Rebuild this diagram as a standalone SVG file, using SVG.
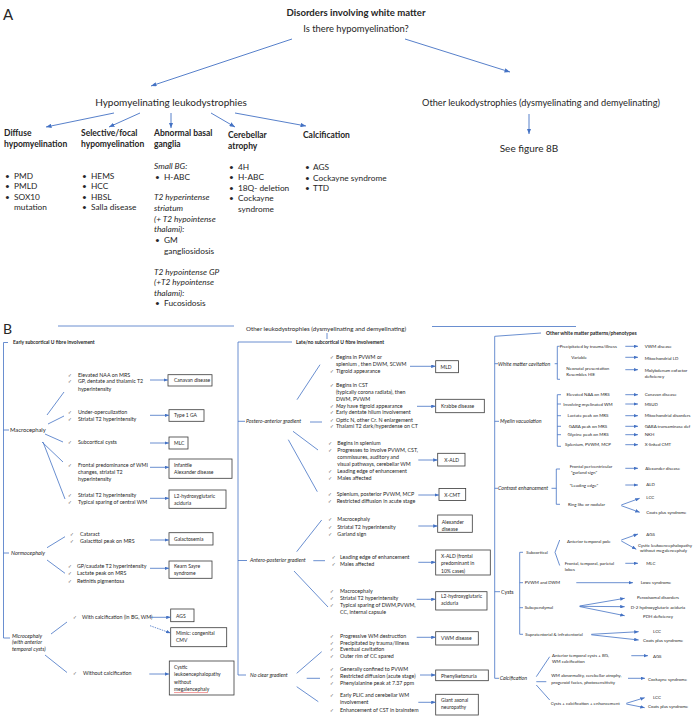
<svg xmlns="http://www.w3.org/2000/svg" width="698" height="716" viewBox="0 0 698 716">
<defs>
<style>
text{font-family:Lato,"Liberation Sans",sans-serif;fill:#262626}
.a{font-size:10px}
.ab{font-size:9.6px;font-weight:bold}
.h{font-size:8.5px;font-weight:bold}
.l{font-size:8.3px}
.li{font-size:8.3px;font-style:italic}
.t{font-size:5.3px}
.ti{font-size:5.3px;font-style:italic}
.tb{font-size:5px;font-weight:bold}
.bt{font-size:5px}
.r{font-size:4.4px}
.ck{font-family:"DejaVu Sans",sans-serif;font-size:4.6px;fill:#333}
.ln{stroke:#4472C4;stroke-width:0.8;fill:none}
.ar{stroke:#4472C4;stroke-width:0.8;fill:none;marker-end:url(#ah)}
.arA{stroke:#4472C4;stroke-width:0.9;fill:none;marker-end:url(#ahA)}
.bx{fill:#fff;stroke:#3a3a3a;stroke-width:0.8}
</style>
<marker id="ah" viewBox="0 0 10 8" refX="10" refY="4" markerWidth="4.5" markerHeight="3.6" markerUnits="userSpaceOnUse" orient="auto"><path d="M0,0L10,4L0,8z" fill="#4472C4"/></marker>
<marker id="ahA" viewBox="0 0 10 8" refX="10" refY="4" markerWidth="5.5" markerHeight="4.4" markerUnits="userSpaceOnUse" orient="auto"><path d="M0,0L10,4L0,8z" fill="#4472C4"/></marker>
</defs>
<rect width="698" height="716" fill="#fff"/>

<!-- ================= PANEL A ================= -->
<text x="3" y="20" style="font-size:15px">A</text>
<g id="a-root">
<text class="ab" x="356" y="16" text-anchor="middle">Disorders involving white matter</text>
<text x="356" y="32" text-anchor="middle" style="font-size:9.4px">Is there hypomyelination?</text>
</g>
<g id="a-hypo"><text class="a" x="171" y="106" text-anchor="middle">Hypomyelinating leukodystrophies</text></g>
<g id="a-other"><text x="541" y="106" text-anchor="middle" style="font-size:9.2px">Other leukodystrophies (dysmyelinating and demyelinating)</text></g>
<g id="a-see"><text class="a" x="529" y="152" text-anchor="middle">See figure 8B</text></g>

<g id="a-diffuse">
<text class="h" x="4" y="136">Diffuse</text>
<text class="h" x="4" y="147">hypomyelination</text>
<text class="l" y="178.7"><tspan x="5">•</tspan><tspan x="14">PMD</tspan></text>
<text class="l" y="189.3"><tspan x="5">•</tspan><tspan x="14">PMLD</tspan></text>
<text class="l" y="199.7"><tspan x="5">•</tspan><tspan x="14">SOX10</tspan></text>
<text class="l" x="14" y="210.3">mutation</text>
</g>
<g id="a-selective">
<text class="h" x="81" y="136">Selective/focal</text>
<text class="h" x="81" y="147">hypomyelination</text>
<text class="l" y="178.7"><tspan x="82">•</tspan><tspan x="91">HEMS</tspan></text>
<text class="l" y="189.3"><tspan x="82">•</tspan><tspan x="91">HCC</tspan></text>
<text class="l" y="199.7"><tspan x="82">•</tspan><tspan x="91">HBSL</tspan></text>
<text class="l" y="210.3"><tspan x="82">•</tspan><tspan x="91">Salla disease</tspan></text>
</g>
<g id="a-basal">
<text class="h" x="154" y="136">Abnormal basal</text>
<text class="h" x="154" y="147">ganglia</text>
<text class="li" x="154" y="168.7">Small BG:</text>
<text class="l" y="179.7"><tspan x="155">•</tspan><tspan x="164">H-ABC</tspan></text>
<text class="li" x="154" y="200">T2 hyperintense</text>
<text class="li" x="154" y="211">striatum</text>
<text class="li" x="154" y="222">(+ T2 hypointense</text>
<text class="li" x="154" y="232">thalami):</text>
<text class="l" y="243"><tspan x="155">•</tspan><tspan x="164">GM</tspan></text>
<text class="l" x="164" y="254">gangliosidosis</text>
<text class="li" x="154" y="274.7">T2 hypointense GP</text>
<text class="li" x="154" y="285">(+T2 hypointense</text>
<text class="li" x="154" y="295.7">thalami):</text>
<text class="l" y="306"><tspan x="155">•</tspan><tspan x="164">Fucosidosis</tspan></text>
</g>
<g id="a-cerebellar">
<text class="h" x="228" y="138">Cerebellar</text>
<text class="h" x="228" y="149">atrophy</text>
<text class="l" y="169.7"><tspan x="229">•</tspan><tspan x="238">4H</tspan></text>
<text class="l" y="180.3"><tspan x="229">•</tspan><tspan x="238">H-ABC</tspan></text>
<text class="l" y="190.7"><tspan x="229">•</tspan><tspan x="238">18Q- deletion</tspan></text>
<text class="l" y="201"><tspan x="229">•</tspan><tspan x="238">Cockayne</tspan></text>
<text class="l" x="238" y="212">syndrome</text>
</g>
<g id="a-calcification">
<text class="h" x="303" y="138">Calcification</text>
<text class="l" y="170"><tspan x="305">•</tspan><tspan x="313">AGS</tspan></text>
<text class="l" y="180.7"><tspan x="305">•</tspan><tspan x="313">Cockayne syndrome</tspan></text>
<text class="l" y="191"><tspan x="305">•</tspan><tspan x="313">TTD</tspan></text>
</g>

<g id="a-connectors">
<line class="arA" x1="292" y1="39" x2="151" y2="86"/>
<line class="arA" x1="405" y1="39" x2="510" y2="72"/>
<line class="arA" x1="529" y1="114" x2="529" y2="134"/>
<line class="arA" x1="114" y1="113" x2="46" y2="127"/>
<line class="arA" x1="140" y1="113" x2="109" y2="127"/>
<line class="arA" x1="171" y1="113" x2="171" y2="128"/>
<line class="arA" x1="211" y1="113" x2="235" y2="127"/>
<line class="arA" x1="235" y1="113" x2="306" y2="126"/>
</g>

<!-- ================= PANEL B ================= -->
<text x="3" y="334" style="font-size:14px">B</text>
<g id="b-root"><text x="246" y="331" style="font-size:6.2px">Other leukodystrophies (dysmyelinating and demyelinating)</text></g>

<!-- left column -->
<g id="b-early"><text class="tb" x="13" y="343.5">Early subcortical U fibre involvement</text></g>
<g id="b-macro"><text x="10" y="431.8" style="font-size:5.8px">Macrocephaly</text></g>
<g id="b-normo"><text x="11" y="554.8" style="font-size:5.6px;font-style:italic">Normocephaly</text></g>
<g id="b-micro">
<text x="12" y="637.7" style="font-size:5.4px;font-style:italic">Microcephaly</text>
<text x="12" y="644.3" style="font-size:5.4px;font-style:italic">(with anterior</text>
<text x="12" y="651.3" style="font-size:5.4px;font-style:italic">temporal cysts)</text>
</g>

<g id="b-canavan-f">
<text class="t" y="377.3"><tspan class="ck" x="68">✓︎</tspan><tspan x="78">Elevated NAA on MRS</tspan></text>
<text class="t" y="383.3"><tspan class="ck" x="68">✓︎</tspan><tspan x="78">GP, dentate and thalamic T2</tspan></text>
<text class="t" x="78" y="390.7">hyperintensity</text>
</g>
<g id="b-canavan"><rect class="bx" x="168" y="374.7" width="44" height="11.3"/><text class="bt" x="174" y="382">Canavan disease</text></g>

<g id="b-ga1-f">
<text class="t" y="414.3"><tspan class="ck" x="68">✓︎</tspan><tspan x="78">Under-operculization</tspan></text>
<text class="t" y="421"><tspan class="ck" x="68">✓︎</tspan><tspan x="78">Striatal T2 hyperintensity</tspan></text>
</g>
<g id="b-ga1"><rect class="bx" x="169" y="409.7" width="35" height="11.6"/><text class="bt" x="174" y="417.3">Type 1 GA</text></g>

<g id="b-mlc-f"><text class="t" y="444"><tspan class="ck" x="68">✓︎</tspan><tspan x="78">Subcortical cysts</tspan></text></g>
<g id="b-mlc"><rect class="bx" x="169" y="437" width="19" height="12"/><text class="bt" x="174" y="445">MLC</text></g>

<g id="b-alex1-f">
<text class="t" y="467"><tspan class="ck" x="68">✓︎</tspan><tspan x="78">Frontal predominance of WMI</tspan></text>
<text class="t" x="78" y="474.3">changes, striatal T2</text>
<text class="t" x="78" y="481.3">hyperintensity</text>
</g>
<g id="b-alex1"><rect class="bx" x="169" y="459" width="63" height="19.3"/><text class="bt" x="174" y="467">Infantile</text><text class="bt" x="174" y="473.7">Alexander disease</text></g>

<g id="b-l2a-f">
<text class="t" y="497"><tspan class="ck" x="68">✓︎</tspan><tspan x="78">Striatal T2 hyperintensity</tspan></text>
<text class="t" y="503.7"><tspan class="ck" x="68">✓︎</tspan><tspan x="78">Typical sparing of central WM</tspan></text>
</g>
<g id="b-l2a"><rect class="bx" x="169" y="490" width="57" height="18.3"/><text class="bt" x="174" y="497.7">L2-hydroxyglutaric</text><text class="bt" x="174" y="505.3">aciduria</text></g>

<g id="b-gal-f">
<text class="t" y="536"><tspan class="ck" x="70">✓︎</tspan><tspan x="80">Cataract</tspan></text>
<text class="t" y="542.7"><tspan class="ck" x="70">✓︎</tspan><tspan x="80">Galactitol peak on MRS</tspan></text>
</g>
<g id="b-gal"><rect class="bx" x="169" y="532.7" width="44" height="12.3"/><text class="bt" x="174" y="540.5">Galactosemia</text></g>

<g id="b-ks-f">
<text class="t" y="568"><tspan class="ck" x="68">✓︎</tspan><tspan x="77">GP/caudate T2 hyperintensity</tspan></text>
<text class="t" y="575.3"><tspan class="ck" x="68">✓︎</tspan><tspan x="77">Lactate peak on MRS</tspan></text>
<text class="t" y="582.7"><tspan class="ck" x="68">✓︎</tspan><tspan x="77">Retinitis pigmentosa</tspan></text>
</g>
<g id="b-ks"><rect class="bx" x="169" y="561" width="43" height="17.3"/><text class="bt" x="174" y="568">Kearn Sayre</text><text class="bt" x="174" y="575.3">syndrome</text></g>

<g id="b-withcalc-f"><text class="t" y="619.3"><tspan class="ck" x="73">✓︎</tspan><tspan x="82">With calcification (in BG, WM)</tspan></text></g>
<g id="b-ags1"><rect class="bx" x="170.7" y="609" width="23.3" height="12.7"/><text class="bt" x="176" y="617.5">AGS</text></g>
<g id="b-cmv"><rect class="bx" x="170.7" y="627.7" width="56" height="19"/><text class="bt" x="176" y="635.3">Mimic: congenital</text><text class="bt" x="176" y="642.3">CMV</text></g>
<g id="b-nocalc-f"><text class="t" y="675.3"><tspan class="ck" x="73">✓︎</tspan><tspan x="83">Without calcification</tspan></text></g>
<g id="b-cystic"><rect class="bx" x="169.3" y="661" width="64.7" height="34"/>
<text class="bt" x="174" y="669.3">Cystic</text><text class="bt" x="174" y="676.3">leukoencephalopathy</text><text class="bt" x="174" y="683.7">without</text><text class="bt" x="174" y="691">megalencephaly</text>
<path d="M174,692.9l1,-.7l1,.7l1,-.7l1,.7l1,-.7l1,.7l1,-.7l1,.7l1,-.7l1,.7l1,-.7l1,.7l1,-.7l1,.7l1,-.7l1,.7l1,-.7l1,.7l1,-.7l1,.7l1,-.7l1,.7l1,-.7l1,.7l1,-.7l1,.7l1,-.7l1,.7l1,-.7l1,.7l1,-.7l1,.7l1,-.7l1,.7" fill="none" stroke="#e02020" stroke-width="0.45"/>
</g>

<!-- middle column -->
<g id="b-late"><text class="tb" x="296" y="344">Late/no subcortical U fibre involvement</text></g>
<g id="b-postero"><text class="ti" x="246" y="423.3">Postero-anterior gradient</text></g>
<g id="b-antero"><text class="ti" x="250" y="562">Antero-posterior gradient</text></g>
<g id="b-noclear"><text class="ti" x="250" y="677">No clear gradient</text></g>

<g id="b-mld-f">
<text class="t" y="359"><tspan class="ck" x="330">✓︎</tspan><tspan x="336">Begins in PVWM or</tspan></text>
<text class="t" x="336" y="366">splenium , then DWM, SCWM</text>
<text class="t" y="373.3"><tspan class="ck" x="330">✓︎</tspan><tspan x="336">Tigroid appearance</tspan></text>
</g>
<g id="b-mld"><rect class="bx" x="435.7" y="360.7" width="22.7" height="12"/><text class="bt" x="440.5" y="368.7">MLD</text></g>

<g id="b-krabbe-f">
<text class="t" y="386.7"><tspan class="ck" x="330">✓︎</tspan><tspan x="336">Begins in CST</tspan></text>
<text class="t" x="336" y="394">(typically corona radiata), then</text>
<text class="t" x="336" y="401">DWM, PVWM</text>
<text class="t" y="407.7"><tspan class="ck" x="330">✓︎</tspan><tspan x="336" font-style="italic">May</tspan><tspan> have tigroid appearance</tspan></text>
<text class="t" y="414.3"><tspan class="ck" x="330">✓︎</tspan><tspan x="336">Early dentate hilum involvement</tspan></text>
<text class="t" y="421.7"><tspan class="ck" x="330">✓︎</tspan><tspan x="336">Optic N, other Cr. N enlargement</tspan></text>
<text class="t" y="428.3"><tspan class="ck" x="330">✓︎</tspan><tspan x="336">Thalami T2 dark/hyperdense on CT</tspan></text>
</g>
<g id="b-krabbe"><rect class="bx" x="435.7" y="399.3" width="48.6" height="13.4"/><text class="bt" x="441" y="408">Krabbe disease</text></g>

<g id="b-xald-f">
<text class="t" y="445"><tspan class="ck" x="328.3">✓︎</tspan><tspan x="337.3">Begins in splenium</tspan></text>
<text class="t" y="451.7"><tspan class="ck" x="328.3">✓︎</tspan><tspan x="337.3">Progresses to involve PVWM, CST,</tspan></text>
<text class="t" x="337.3" y="459">commissures, auditory and</text>
<text class="t" x="337.3" y="466">visual pathways, cerebellar WM</text>
<text class="t" y="473"><tspan class="ck" x="328.3">✓︎</tspan><tspan x="337.3">Leading edge of enhancement</tspan></text>
<text class="t" y="480.3"><tspan class="ck" x="328.3">✓︎</tspan><tspan x="337.3">Males affected</tspan></text>
</g>
<g id="b-xald"><rect class="bx" x="437.7" y="453.3" width="27.3" height="12.7"/><text class="bt" x="444.3" y="461.7">X-ALD</text></g>

<g id="b-xcmt-f">
<text class="t" y="496"><tspan class="ck" x="328">✓︎</tspan><tspan x="336.7">Splenium, posterior PVWM, MCP</tspan></text>
<text class="t" y="503"><tspan class="ck" x="328">✓︎</tspan><tspan x="336.7">Restricted diffusion in acute stage</tspan></text>
</g>
<g id="b-xcmt"><rect class="bx" x="439" y="488.5" width="26.7" height="12"/><text class="bt" x="444.3" y="496.5">X-CMT</text></g>

<g id="b-alex2-f">
<text class="t" y="521.3"><tspan class="ck" x="328.3">✓︎</tspan><tspan x="337.3">Macrocephaly</tspan></text>
<text class="t" y="528.7"><tspan class="ck" x="328.3">✓︎</tspan><tspan x="337.3">Striatal T2 hyperintensity</tspan></text>
<text class="t" y="536"><tspan class="ck" x="328.3">✓︎</tspan><tspan x="337.3">Garland sign</tspan></text>
</g>
<g id="b-alex2"><rect class="bx" x="437.7" y="515" width="34.6" height="17.3"/><text class="bt" x="441.7" y="523.7">Alexander</text><text class="bt" x="441.7" y="531.3">disease</text></g>

<g id="b-xald2-f">
<text class="t" y="558.7"><tspan class="ck" x="331.7">✓︎</tspan><tspan x="340">Leading edge of enhancement</tspan></text>
<text class="t" y="566.3"><tspan class="ck" x="331.7">✓︎</tspan><tspan x="340">Males affected</tspan></text>
</g>
<g id="b-xald2"><rect class="bx" x="435.7" y="550" width="54.6" height="25"/><text class="bt" x="441" y="558">X-ALD (frontal</text><text class="bt" x="441" y="565.3">predominant in</text><text class="bt" x="441" y="572.7">10% cases)</text></g>

<g id="b-l2b-f">
<text class="t" y="593"><tspan class="ck" x="330">✓︎</tspan><tspan x="340">Macrocephaly</tspan></text>
<text class="t" y="600.3"><tspan class="ck" x="330">✓︎</tspan><tspan x="340">Striatal T2 hyperintensity</tspan></text>
<text class="t" y="607"><tspan class="ck" x="330">✓︎</tspan><tspan x="340">Typical sparing of DWM,PVWM,</tspan></text>
<text class="t" x="340" y="613.7">CC, internal capsule</text>
</g>
<g id="b-l2b"><rect class="bx" x="435.7" y="591.7" width="51.3" height="18.3"/><text class="bt" x="441" y="598">L2-hydroxyglutaric</text><text class="bt" x="441" y="605.3">aciduria</text></g>

<g id="b-vwm-f">
<text class="t" y="637.7"><tspan class="ck" x="330">✓︎</tspan><tspan x="340">Progressive WM destruction</tspan></text>
<text class="t" y="644.7"><tspan class="ck" x="330">✓︎</tspan><tspan x="340">Precipitated by trauma/illness</tspan></text>
<text class="t" y="651.3"><tspan class="ck" x="330">✓︎</tspan><tspan x="340">Eventual cavitation</tspan></text>
<text class="t" y="658"><tspan class="ck" x="330">✓︎</tspan><tspan x="340">Outer rim of CC spared</tspan></text>
</g>
<g id="b-vwm"><rect class="bx" x="435.7" y="631.7" width="42.6" height="13.3"/><text class="bt" x="441" y="640.3">VWM disease</text></g>

<g id="b-pku-f">
<text class="t" y="671"><tspan class="ck" x="330">✓︎</tspan><tspan x="340">Generally confined to PVWM</tspan></text>
<text class="t" y="677.7"><tspan class="ck" x="330">✓︎</tspan><tspan x="340">Restricted diffusion (acute stage)</tspan></text>
<text class="t" y="685.3"><tspan class="ck" x="330">✓︎</tspan><tspan x="340">Phenylalanine peak at 7.37 ppm</tspan></text>
</g>
<g id="b-pku"><rect class="bx" x="435.7" y="670" width="52.6" height="10.7"/><text class="bt" x="441" y="677.6">Phenylketonuria</text></g>

<g id="b-gan-f">
<text class="t" y="697"><tspan class="ck" x="330">✓︎</tspan><tspan x="340">Early PLIC and cerebellar WM</tspan></text>
<text class="t" x="340" y="704.3">involvement</text>
<text class="t" y="712"><tspan class="ck" x="330">✓︎</tspan><tspan x="340">Enhancement of CST in brainstem</tspan></text>
</g>
<g id="b-gan"><rect class="bx" x="435.7" y="694.3" width="42.6" height="20.7"/><text class="bt" x="441" y="702">Giant axonal</text><text class="bt" x="441" y="709.3">neuropathy</text></g>

<!-- right column -->
<g id="b-otherwm"><text class="tb" x="546" y="335">Other white matter patterns/phenotypes</text></g>
<g id="b-cav">
<text class="ti" x="498" y="365.7">White matter cavitation</text>
<text class="r" x="559.7" y="348">Precipitated by trauma/illness</text>
<text class="r" x="571.3" y="359">Variable</text>
<text class="r" x="566.3" y="370.3">Neonatal presentation</text>
<text class="r" x="566.3" y="376.3">Resembles HIE</text>
<text class="r" x="644.7" y="348">VWM disease</text>
<text class="r" x="644.7" y="359.6">Mitochondrial LD</text>
<text class="r" x="644.7" y="372">Molybdenum cofactor</text>
<text class="r" x="644.7" y="378">deficiency</text>
</g>
<g id="b-vac">
<text class="ti" x="500" y="423.3">Myelin vacuolation</text>
<text class="r" x="588" y="396.3" text-anchor="middle">Elevated NAA on MRS</text>
<text class="r" x="588" y="405.6" text-anchor="middle">Involving myelinated WM</text>
<text class="r" x="588" y="417.3" text-anchor="middle">Lactate peak on MRS</text>
<text class="r" x="588" y="428" text-anchor="middle">GABA peak on MRS</text>
<text class="r" x="588" y="436.3" text-anchor="middle">Glycine peak on MRS</text>
<text class="r" x="588" y="446.3" text-anchor="middle">Splenium, PVWM, MCP</text>
<text class="r" x="644.7" y="396">Canavan disease</text>
<text class="r" x="644.7" y="405.6">MSUD</text>
<text class="r" x="644.7" y="417.3">Mitochondrial disorders</text>
<text class="r" x="644.7" y="428">GABA transaminase def</text>
<text class="r" x="644.7" y="436.3">NKH</text>
<text class="r" x="644.7" y="446.3">X-linked CMT</text>
</g>
<g id="b-enh">
<text class="ti" x="498" y="490.3">Contrast enhancement</text>
<text class="r" x="569.7" y="467.6">Frontal periventricular</text>
<text class="r" x="571" y="473.9">“garland sign”</text>
<text class="r" x="569.7" y="486.6">“Leading edge”</text>
<text class="r" x="568" y="506">Ring like or nodular</text>
<text class="r" x="645.3" y="470">Alexander disease</text>
<text class="r" x="646.3" y="486">ALD</text>
<text class="r" x="646.3" y="499.3">LCC</text>
<text class="r" x="646.3" y="514">Coats plus syndrome</text>
</g>
<g id="b-cysts">
<text x="501" y="593.5" style="font-size:5.3px">Cysts</text>
<text class="r" x="526.3" y="554">Subcortical</text>
<text class="r" x="567" y="542.6">Anterior temporal pole</text>
<text class="r" x="646.3" y="535.6">AGS</text>
<text class="r" x="638" y="546.6">Cystic leukoencephalopathy</text>
<text class="r" x="640" y="551.8">without megalencephaly</text>
<text class="r" x="564.7" y="565">Frontal, temporal, parietal</text>
<text class="r" x="564.7" y="571">lobes</text>
<text class="r" x="646.3" y="565">MLC</text>
<text class="r" x="524.7" y="584.3">PVWM and DWM</text>
<text class="r" x="640.7" y="584.3">Lowe syndrome</text>
<text class="r" x="524.7" y="609.3">Subependymal</text>
<text class="r" x="658" y="599" text-anchor="middle">Peroxisomal disorders</text>
<text class="r" x="658" y="609" text-anchor="middle">D-2 hydroxyglutaric aciduria</text>
<text class="r" x="658" y="618.3" text-anchor="middle">PDH deficiency</text>
<text class="r" x="525.3" y="636">Supratentorial &amp; infratentorial</text>
<text class="r" x="657" y="633.3" text-anchor="middle">LCC</text>
<text class="r" x="643" y="641.6">Coats plus syndrome</text>
</g>
<g id="b-calc">
<text class="ti" x="499.7" y="680.3">Calcification</text>
<text class="r" x="552" y="657.3">Anterior temporal cysts + BG,</text>
<text class="r" x="552" y="663.3">WM calcification</text>
<text class="r" x="653" y="657.6">AGS</text>
<text class="r" x="551.3" y="677.3">WM abnormality, cerebellar atrophy,</text>
<text class="r" x="551.3" y="684">progeroid facies, photosensitivity</text>
<text class="r" x="648" y="680.6">Cockayne syndrome</text>
<text class="r" x="550.7" y="705">Cysts + calcification + enhancement</text>
<text class="r" x="653" y="699">LCC</text>
<text class="r" x="648" y="708.3">Coats plus syndrome</text>
</g>

<g id="b-connectors">
<line class="ln" x1="58" y1="326" x2="234" y2="326"/>
<line class="ln" x1="432" y1="326.5" x2="576" y2="326.5"/>
<line class="ln" x1="327" y1="333" x2="327" y2="339"/>
<path class="ln" d="M8,342.5H3.5V638H10M3.5,430H9M3.5,553H9"/>
<line class="ln" x1="47" y1="415" x2="64" y2="392"/>
<line class="ln" x1="48" y1="424" x2="64" y2="416"/>
<line class="ln" x1="45" y1="434" x2="63" y2="442"/>
<line class="ln" x1="42" y1="442" x2="63" y2="462"/>
<line class="ln" x1="43" y1="442" x2="65" y2="499"/>
<line class="ln" x1="47" y1="547.7" x2="65" y2="536.7"/>
<line class="ln" x1="47" y1="560" x2="65" y2="573.3"/>
<line class="ln" x1="51" y1="634" x2="67" y2="622"/>
<line class="ln" x1="45" y1="655" x2="67" y2="672.5"/>
<line class="ar" x1="150" y1="380" x2="168" y2="380"/>
<line class="ar" x1="150" y1="415.3" x2="169" y2="415.3"/>
<line class="ar" x1="150" y1="443" x2="169" y2="443"/>
<line class="ar" x1="150" y1="467.3" x2="169" y2="467.3"/>
<line class="ar" x1="150" y1="498.3" x2="169" y2="498.3"/>
<line class="ar" x1="150" y1="540" x2="169" y2="540"/>
<line class="ar" x1="150" y1="568.3" x2="169" y2="568.3"/>
<line class="ar" x1="150" y1="617.3" x2="170.7" y2="617.3"/>
<line class="ar" x1="150" y1="625.7" x2="170.5" y2="633" stroke-dasharray="1.5,1"/>
<line class="ar" x1="149.3" y1="674" x2="169.3" y2="674"/>
<path class="ln" d="M292,342H238V675H246M238,421.3H245M238,560.5H247"/>
<line class="ln" x1="310" y1="422" x2="322" y2="422"/>
<line class="ln" x1="297" y1="399.7" x2="320" y2="364.7"/>
<line class="ln" x1="293" y1="431.3" x2="318" y2="450"/>
<line class="ln" x1="288.3" y1="439.7" x2="317.3" y2="491.7"/>
<line class="ln" x1="313.3" y1="560.7" x2="325" y2="560.7"/>
<line class="ln" x1="296.7" y1="551.7" x2="321.7" y2="520"/>
<line class="ln" x1="294" y1="571" x2="328" y2="607"/>
<line class="ln" x1="296.7" y1="673.3" x2="321.7" y2="651.7"/>
<line class="ln" x1="306.7" y1="678.3" x2="320" y2="678.3"/>
<line class="ln" x1="296.7" y1="686.7" x2="318.3" y2="701.7"/>
<line class="ar" x1="410" y1="366.3" x2="435.7" y2="366.3"/>
<line class="ar" x1="417" y1="406.3" x2="435.7" y2="406.3"/>
<line class="ar" x1="418.3" y1="460" x2="437.7" y2="460"/>
<line class="ar" x1="418.3" y1="495" x2="439" y2="495"/>
<line class="ar" x1="418.3" y1="526" x2="437.7" y2="526"/>
<line class="ar" x1="418.3" y1="562.3" x2="435.7" y2="562.3"/>
<line class="ar" x1="416.7" y1="599.3" x2="435.7" y2="599.3"/>
<line class="ar" x1="416.7" y1="637.3" x2="435.7" y2="637.3"/>
<line class="ar" x1="420" y1="675" x2="435.7" y2="675"/>
<line class="ar" x1="418.3" y1="702.3" x2="435.7" y2="702.3"/>
<line class="ln" x1="494.7" y1="336.3" x2="541" y2="333"/>
<line class="ln" x1="494.7" y1="336.3" x2="494.7" y2="678.3" stroke-width="1.2"/>
<path class="ln" d="M494.7,363.7H498M494.7,421.3H499M494.7,488.3H498M494.7,591.7H500M494.7,678.3H499"/>
<path class="ln" d="M559.7,346.3H557.3V379.3H560M554.7,363.7H557.3"/>
<line class="ar" x1="625.3" y1="346.3" x2="638" y2="346.3"/>
<line class="ar" x1="625.3" y1="357.3" x2="638" y2="357.3"/>
<line class="ar" x1="625.3" y1="369.7" x2="638" y2="369.7"/>
<path class="ln" d="M561,394.7H557.3V446.3H561M557.3,404H561M557.3,415.7H561M557.3,426.3H561M557.3,434.7H561"/>
<line class="ar" x1="625.3" y1="394.7" x2="638" y2="394.7"/>
<line class="ar" x1="625.3" y1="404" x2="638" y2="404"/>
<line class="ar" x1="625.3" y1="415.7" x2="638" y2="415.7"/>
<line class="ar" x1="625.3" y1="426.3" x2="638" y2="426.3"/>
<line class="ar" x1="625.3" y1="434.7" x2="638" y2="434.7"/>
<line class="ar" x1="625.3" y1="444.7" x2="638" y2="444.7"/>
<path class="ln" d="M560,469H556.3V504.3H560M551.5,488.3H556.3"/>
<line class="ar" x1="625.3" y1="468.3" x2="638" y2="468.3"/>
<line class="ar" x1="625.3" y1="485" x2="638" y2="485"/>
<line class="ar" x1="621.3" y1="505" x2="639.7" y2="498.3"/>
<line class="ar" x1="621.3" y1="505.7" x2="639.7" y2="512.3"/>
<path class="ln" d="M519.7,552.3V634.3M519.7,552.3H523M519.7,582.7H523M519.7,607.7H523M519.7,634.3H523"/>
<path class="ln" d="M559.7,540L555,552.3L559.7,565.5"/>
<line class="ar" x1="621.3" y1="540" x2="638" y2="534"/>
<line class="ar" x1="621.3" y1="541" x2="636.3" y2="549.3"/>
<line class="ar" x1="625.3" y1="563.3" x2="638" y2="563.3"/>
<line class="ar" x1="576.3" y1="582.7" x2="633" y2="582.7"/>
<line class="ar" x1="579.7" y1="606" x2="624.7" y2="598.3"/>
<line class="ar" x1="579.7" y1="606.3" x2="624.7" y2="606.7"/>
<line class="ar" x1="579.7" y1="606.6" x2="624.7" y2="615.7"/>
<line class="ar" x1="591.3" y1="634.3" x2="638.7" y2="631.7"/>
<line class="ar" x1="591.3" y1="634.8" x2="638.7" y2="640"/>
<line class="ln" x1="536.3" y1="676.7" x2="549.7" y2="656.7"/>
<line class="ln" x1="536.3" y1="681.7" x2="546.3" y2="681.7"/>
<line class="ln" x1="536.3" y1="685" x2="549.7" y2="700"/>
<line class="ar" x1="631.3" y1="655.7" x2="648" y2="655.7"/>
<line class="ar" x1="628" y1="678.3" x2="645" y2="678.3"/>
<line class="ar" x1="626.3" y1="703.3" x2="644.7" y2="697.7"/>
<line class="ar" x1="626.3" y1="704" x2="644.7" y2="707.7"/>
</g>
</svg>
